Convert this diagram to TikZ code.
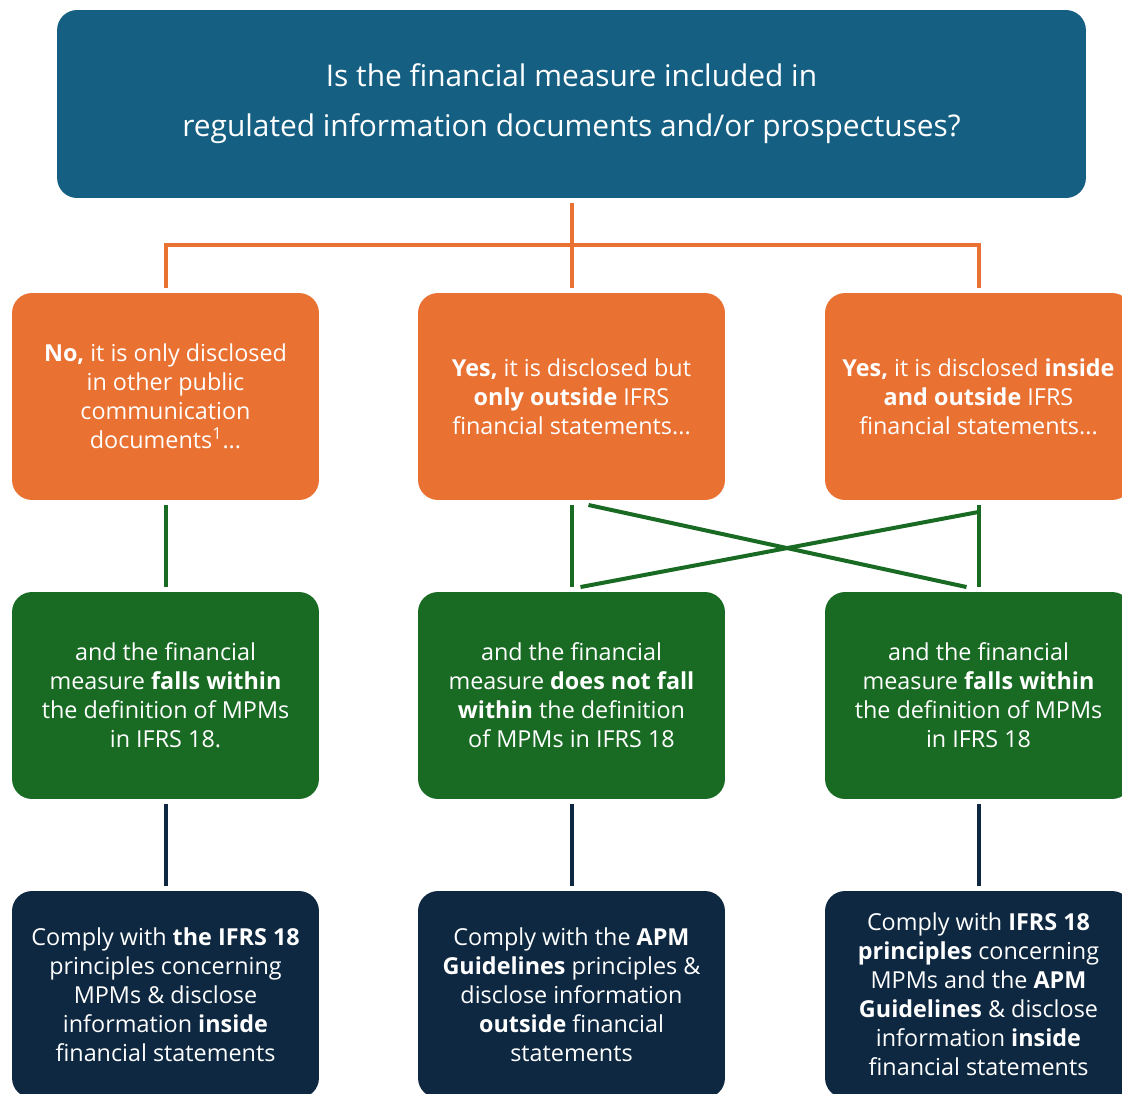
\documentclass[tikz,border=0pt]{standalone}
\usepackage{fontspec}
\setmainfont{Open Sans}

\definecolor{qblue}{HTML}{156082}
\definecolor{dorange}{HTML}{E97132}
\definecolor{dgreen}{HTML}{196B24}
\definecolor{dnavy}{HTML}{0E2841}

\begin{document}
\begin{tikzpicture}[x=0.02cm, y=-0.02cm,
    box/.style={rounded corners=0.4cm, text=white, align=center, inner sep=0pt, outer sep=0.1cm,
        minimum width=6.14cm, minimum height=4.14cm, font=\fontsize{13.3}{16.5}\selectfont},
    orangebox/.style={box, fill=dorange},
    greenbox/.style={box, fill=dgreen},
    navybox/.style={box, fill=dnavy},
    link/.style={line width=0.08cm}]

    \useasboundingbox (0,0) rectangle (1122,1093);
    \clip (0,0) rectangle (1122,1093);

    % The question on top
    \node[box, fill=qblue, minimum width=20.58cm, minimum height=3.76cm,
        font=\fontsize{17}{28.5}\selectfont] (question) at (571.5,104)
        {Is the financial measure included in\\regulated information documents and/or prospectuses?};

    % Where is it disclosed
    \node[orangebox] (onlyother) at (165.5,396.5)
        {\textbf{No,} it is only disclosed\\in other public\\communication\\documents\textsuperscript{1}...};
    \node[orangebox] (onlyoutside) at (571.5,396.5)
        {\textbf{Yes,} it is disclosed but\\\textbf{only outside} IFRS\\financial statements...};
    \node[orangebox] (inandout) at (978.5,396.5)
        {\textbf{Yes,} it is disclosed \textbf{inside}\\\textbf{and outside} IFRS\\financial statements...};

    % MPM definition
    \node[greenbox] (withinA) at (165.5,695.5)
        {and the financial\\measure \textbf{falls within}\\the definition of MPMs\\in IFRS 18.};
    \node[greenbox] (notwithin) at (571.5,695.5)
        {and the financial\\measure \textbf{does not fall}\\\textbf{within} the definition\\of MPMs in IFRS 18};
    \node[greenbox] (withinB) at (978.5,695.5)
        {and the financial\\measure \textbf{falls within}\\the definition of MPMs\\in IFRS 18};

    % What to comply with
    \node[navybox] (complyifrs) at (165.5,994.5)
        {Comply with \textbf{the IFRS 18}\\principles concerning\\MPMs \& disclose\\information \textbf{inside}\\financial statements};
    \node[navybox] (complyapm) at (571.5,994.5)
        {Comply with the \textbf{APM}\\\textbf{Guidelines} principles \&\\disclose information\\\textbf{outside} financial\\statements};
    \node[navybox] (complyboth) at (978.5,994.5)
        {Comply with \textbf{IFRS 18}\\\textbf{principles} concerning\\MPMs and the \textbf{APM}\\\textbf{Guidelines} \& disclose\\information \textbf{inside}\\financial statements};

    % Orange fork
    \coordinate (fork) at (571.5,245);
    \draw[link, dorange] (question.south) -- (onlyoutside.north);
    \draw[link, dorange] (onlyother.north) |- (fork) -| (inandout.north);

    % Green links
    \draw[link, dgreen] (onlyother.south) -- (withinA.north);
    \draw[link, dgreen] (onlyoutside.south) -- (notwithin.north);
    \draw[link, dgreen] (inandout.south) -- (withinB.north);
    \draw[link, dgreen] ([xshift=0.34cm]onlyoutside.south) -- ([xshift=-0.24cm]withinB.north);
    \draw[link, dgreen] ([xshift=0.18cm]notwithin.north) -- ([yshift=-0.14cm]inandout.south);

    % Navy links
    \draw[link, dnavy] (withinA.south) -- (complyifrs.north);
    \draw[link, dnavy] (notwithin.south) -- (complyapm.north);
    \draw[link, dnavy] (withinB.south) -- (complyboth.north);

\end{tikzpicture}
\end{document}
